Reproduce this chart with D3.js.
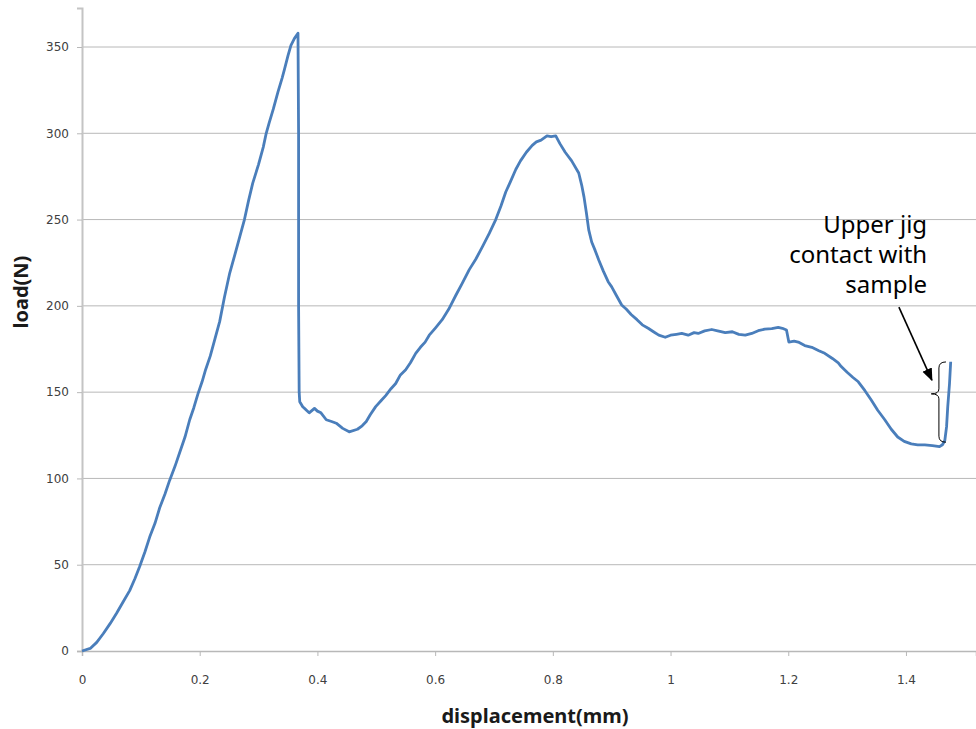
<!DOCTYPE html>
<html>
<head>
<meta charset="utf-8">
<script src="https://cdn.jsdelivr.net/npm/d3@7"></script>
<style>
  body { margin: 0; background: #fff; }
  svg { display: block; }
</style>
</head>
<body>
<div id="chart"></div>
<script>
// displacement (mm) and load (N)
const disp = [0, 0.014, 0.025, 0.036, 0.048, 0.059, 0.07, 0.081, 0.09, 0.098, 0.107, 0.115, 0.124, 0.132, 0.141, 0.149,
  0.158, 0.166, 0.175, 0.183, 0.19, 0.197, 0.204, 0.21, 0.218, 0.226, 0.234, 0.242, 0.251, 0.26, 0.268, 0.276, 0.283,
  0.29, 0.3, 0.308, 0.313, 0.318, 0.325, 0.333, 0.34, 0.344, 0.35, 0.355, 0.361, 0.367, 0.368, 0.368, 0.369, 0.37,
  0.375, 0.38, 0.386, 0.395, 0.4, 0.406, 0.415, 0.424, 0.432, 0.443, 0.454, 0.468, 0.476, 0.483, 0.49, 0.499, 0.508,
  0.516, 0.525, 0.533, 0.541, 0.55, 0.558, 0.567, 0.575, 0.583, 0.59, 0.6, 0.612, 0.623, 0.635, 0.646, 0.658, 0.669,
  0.68, 0.692, 0.703, 0.712, 0.72, 0.728, 0.737, 0.745, 0.755, 0.765, 0.772, 0.78, 0.79, 0.797, 0.805, 0.812, 0.821,
  0.832, 0.844, 0.849, 0.853, 0.857, 0.861, 0.866, 0.872, 0.878, 0.886, 0.894, 0.9, 0.908, 0.917, 0.925, 0.933, 0.943,
  0.952, 0.962, 0.971, 0.98, 0.991, 1.0, 1.01, 1.019, 1.03, 1.04, 1.047, 1.058, 1.07, 1.08, 1.093, 1.105, 1.116, 1.127,
  1.138, 1.149, 1.16, 1.172, 1.183, 1.19, 1.197, 1.201, 1.21, 1.217, 1.228, 1.24, 1.252, 1.262, 1.275, 1.285, 1.29,
  1.3, 1.31, 1.319, 1.33, 1.341, 1.352, 1.364, 1.375, 1.386, 1.397, 1.409, 1.42, 1.432, 1.445, 1.457, 1.462, 1.466,
  1.469, 1.471, 1.474, 1.476];
const load = [0, 1.5, 5, 10, 16, 22, 28.5, 35, 42, 49, 57.5, 66, 74, 83, 91, 99,
  107, 115, 124, 134, 141, 149, 156, 163, 171, 181, 191, 205, 219, 230, 240, 250, 261,
  271, 282, 292, 300, 306, 314, 324, 332, 337, 345, 351, 355, 358, 300, 200, 150, 144.4,
  141.5, 140, 138, 140.6, 139, 138, 134, 133, 132, 129, 127, 128.5, 130.5, 133, 137, 141.6, 145,
  148, 152, 155, 160, 163, 167, 172.5, 176, 179, 183, 187, 192, 198, 206, 213, 221, 227,
  234, 242, 250, 258, 266, 272, 279, 284, 289, 293, 295, 296, 298.5, 298, 298.5, 294, 289,
  284, 277, 270, 263, 254, 244, 237, 232, 226.6, 220, 214, 211, 206, 200.5, 198, 195, 192,
  189, 187, 185, 183, 181.8, 183, 183.5, 184, 183, 184.5, 184, 185.5, 186.3, 185.5, 184.5, 185, 183.5, 183,
  184, 185.6, 186.5, 186.8, 187.5, 187, 186, 179, 179.5, 179, 177, 176, 174, 172.5, 169.5, 167, 164.8,
  161.5, 158.5, 156, 151, 145.4, 139.5, 134, 128.5, 124, 121.5, 120, 119.5, 119.4, 119, 118.4, 119.5, 122,
  130, 141.6, 155, 167.6];

const xTicks = [0, 0.2, 0.4, 0.6, 0.8, 1, 1.2, 1.4];
const yTicks = [0, 50, 100, 150, 200, 250, 300, 350];
const noteLines = ["Upper jig", "contact with", "sample"];

const width = 976, height = 729;
const margin = {top: 8, right: 0, bottom: 78, left: 82};

const svg = d3.select("#chart")
    .append("svg")
    .attr("width", width)
    .attr("height", height);

const x = d3.scaleLinear()
    .domain([0, 1.519])
    .range([margin.left, width - margin.right]);

const y = d3.scaleLinear()
    .domain([0, 372.6])
    .range([height - margin.bottom, margin.top]);

// gridlines
svg.append("g")
    .selectAll("line")
    .data(yTicks.filter(d => d > 0))
    .join("line")
    .attr("x1", margin.left)
    .attr("x2", width - margin.right)
    .attr("y1", d => y(d))
    .attr("y2", d => y(d))
    .attr("stroke", "#b8b8b8")
    .attr("stroke-width", 1);

// y axis
const yAxis = svg.append("g")
    .attr("transform", `translate(${margin.left},0)`)
    .call(d3.axisLeft(y).tickValues(yTicks).tickSize(5).tickPadding(8).tickFormat(d3.format("d")));
yAxis.select(".domain").attr("stroke", "#c4c4c4").attr("stroke-width", 2);
yAxis.selectAll(".tick line").attr("stroke", "#b8b8b8");
yAxis.selectAll(".tick text")
    .attr("font-family", "DejaVu Sans")
    .attr("font-size", 12)
    .attr("fill", "#404040");

// x axis
const xAxis = svg.append("g")
    .attr("transform", `translate(0,${height - margin.bottom})`)
    .call(d3.axisBottom(x).tickValues(xTicks).tickSize(5).tickPadding(19).tickFormat(d => d));
xAxis.select(".domain").attr("stroke", "#b8b8b8").attr("stroke-width", 1.5);
xAxis.selectAll(".tick line").attr("stroke", "#b8b8b8");
xAxis.selectAll(".tick text")
    .attr("font-family", "DejaVu Sans")
    .attr("font-size", 12)
    .attr("fill", "#404040");

// load curve
const pts = disp.map((d, i) => [d, load[i]]);
svg.append("path")
    .datum(pts)
    .attr("fill", "none")
    .attr("stroke", "#4a7ebb")
    .attr("stroke-width", 2.8)
    .attr("stroke-linejoin", "round")
    .attr("d", d3.line().x(d => x(d[0])).y(d => y(d[1])));

// axis titles
svg.append("text")
    .attr("x", 535)
    .attr("y", 723)
    .attr("text-anchor", "middle")
    .attr("font-family", "Noto Sans")
    .attr("font-weight", "bold")
    .attr("font-size", 20)
    .attr("fill", "#1a1a1a")
    .text("displacement(mm)");

svg.append("text")
    .attr("transform", `translate(28,${y(208)}) rotate(-90)`)
    .attr("text-anchor", "middle")
    .attr("font-family", "Noto Sans")
    .attr("font-weight", "bold")
    .attr("font-size", 20)
    .attr("fill", "#1a1a1a")
    .text("load(N)");

// annotation
svg.append("defs").append("marker")
    .attr("id", "arrow")
    .attr("viewBox", "0 0 10 10")
    .attr("refX", 9).attr("refY", 5)
    .attr("markerWidth", 8).attr("markerHeight", 8)
    .attr("orient", "auto")
    .append("path")
    .attr("d", "M0,1 L10,5 L0,9 Z")
    .attr("fill", "#000");

svg.append("text")
    .attr("font-family", "Noto Sans")
    .attr("font-size", 24)
    .attr("fill", "#000")
    .attr("text-anchor", "end")
    .selectAll("tspan")
    .data(noteLines)
    .join("tspan")
    .attr("x", x(1.436))
    .attr("y", (d, i) => y(242) + i * 30)
    .text(d => d);

svg.append("line")
    .attr("x1", x(1.388)).attr("y1", y(199.3))
    .attr("x2", x(1.444)).attr("y2", y(157))
    .attr("stroke", "#000")
    .attr("stroke-width", 1.6)
    .attr("marker-end", "url(#arrow)");

// curly brace beside the final rise
const bx = x(1.456), bTip = x(1.443), bEnd = x(1.468);
const bTop = y(167.5), bMid = y(149), bBot = y(121);
svg.append("path")
    .attr("fill", "none")
    .attr("stroke", "#000")
    .attr("stroke-width", 1)
    .attr("d", `M${bEnd},${bTop} Q${bx},${bTop} ${bx},${bTop + 6} L${bx},${bMid - 5} Q${bx},${bMid} ${bTip},${bMid}` +
      ` Q${bx},${bMid} ${bx},${bMid + 5} L${bx},${bBot - 6} Q${bx},${bBot} ${bEnd},${bBot}`);
</script>
</body>
</html>
